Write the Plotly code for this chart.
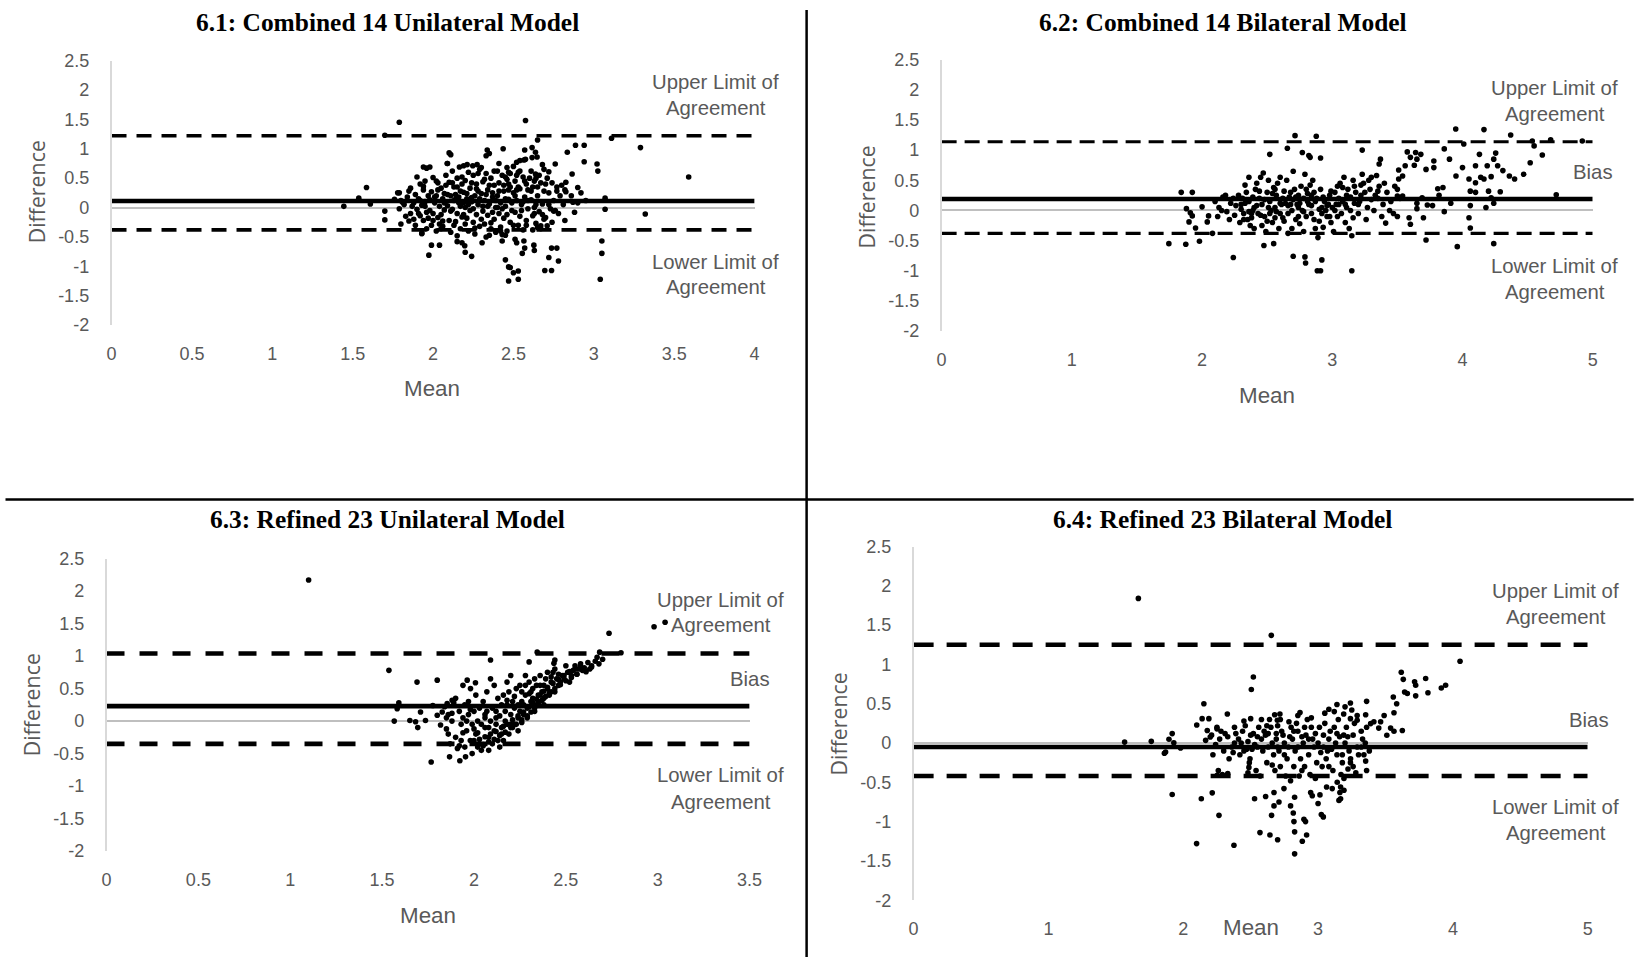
import plotly.graph_objects as go

# ---------------- data ----------------
titles = ["6.1: Combined 14 Unilateral Model", "6.2: Combined 14 Bilateral Model",
          "6.3: Refined 23 Unilateral Model", "6.4: Refined 23 Bilateral Model"]
x_max = [4, 5, 3.5, 5]
x_ticks = [[0, 0.5, 1, 1.5, 2, 2.5, 3, 3.5, 4], [0, 1, 2, 3, 4, 5],
           [0, 0.5, 1, 1.5, 2, 2.5, 3, 3.5], [0, 1, 2, 3, 4, 5]]
x_ticktext = [["0", "0.5", "1", "1.5", "2", "2.5", "3", "3.5", "4"], ["0", "1", "2", "3", "4", "5"],
              ["0", "0.5", "1", "1.5", "2", "2.5", "3", "3.5"], ["0", "1", "2", "3", "4", "5"]]
y_ticks = [-2, -1.5, -1, -0.5, 0, 0.5, 1, 1.5, 2, 2.5]
y_ticktext = ["-2", "-1.5", "-1", "-0.5", "0", "0.5", "1", "1.5", "2", "2.5"]
bias = [0.11, 0.19, 0.23, -0.05]
upper_loa = [1.22, 1.14, 1.04, 1.25]
lower_loa = [-0.38, -0.38, -0.35, -0.42]

p1_points = [
    (1.79, 1.45), (2.575, 1.48), (1.70, 1.23), (2.65, 1.15), (3.11, 1.18), (3.29, 1.02), (2.886, 1.06),
    (2.94, 1.06), (2.835, 0.94), (2.94, 0.78), (3.02, 0.74), (3.025, 0.62), (2.865, 0.57), (2.10, 0.93),
    (2.11, 0.90), (2.337, 0.98), (2.35, 0.92), (2.33, 0.88), (2.436, 1.00), (2.57, 0.98), (2.616, 1.02),
    (2.637, 0.94), (2.647, 0.86), (2.616, 0.85), (2.52, 0.77), (2.54, 0.80), (2.565, 0.81), (2.575, 0.82),
    (1.94, 0.69), (1.96, 0.67), (2.088, 0.75), (2.164, 0.69), (2.212, 0.73), (2.247, 0.71), (2.274, 0.73),
    (2.29, 0.65), (2.41, 0.75), (2.46, 0.68), (2.47, 0.60), (2.68, 0.73), (2.69, 0.65), (2.72, 0.61),
    (2.76, 0.74), (2.637, 0.57), (1.586, 0.34), (1.538, 0.16), (1.445, 0.02), (1.61, 0.06), (3.07, 0.16),
    (3.07, -0.03), (3.32, -0.11), (3.59, 0.52), (1.70, -0.06), (1.70, -0.21), (1.79, 0.25), (2.90, 0.34),
    (2.87, 0.09), (2.826, 0.27), (2.77, 0.28), (2.826, 0.43), (2.82, -0.22), (2.70, -0.17), (2.71, -0.31),
    (2.75, -0.06), (1.99, -0.64), (2.04, -0.64), (1.974, -0.81), (2.197, -0.65), (2.20, -0.76),
    (2.24, -0.83), (2.15, -0.58), (2.18, -0.60), (2.305, -0.60), (1.93, -0.44), (1.80, -0.28), (1.85, -0.23),
    (2.43, -0.57), (2.45, -0.47), (2.45, -0.89), (2.47, -1.01), (2.48, -1.02), (2.50, -1.11), (2.53, -1.08),
    (2.47, -1.25), (2.53, -1.22), (2.51, -0.54), (2.52, -0.60), (2.565, -0.57), (2.57, -0.69), (2.555, -0.78),
    (2.627, -0.64), (2.63, -0.73), (2.737, -0.69), (2.77, -0.69), (2.72, -0.85), (2.78, -0.91),
    (2.695, -1.07), (2.737, -1.07), (3.05, -0.57), (3.05, -0.78), (3.04, -1.22), (2.65, -0.34), (2.67, -0.31),
    (1.78, 0.25), (1.80, 0.12), (1.82, 0.05), (1.79, -0.02), (1.84, 0.18), (1.86, -0.10), (1.83, -0.15),
    (1.85, 0.28), (1.81, 0.09), (1.87, 0.02), (1.76, 0.14), (1.88, -0.20), (1.86, 0.33),
    (1.90, 0.52), (1.92, 0.40), (1.94, 0.30), (1.89, 0.22), (1.91, 0.15), (1.95, 0.10), (1.93, 0.04),
    (1.90, -0.03), (1.96, -0.08), (1.92, -0.14), (1.94, -0.22), (1.89, -0.30), (1.96, -0.36), (1.93, -0.44),
    (1.97, 0.20), (1.88, 0.08), (1.95, 0.45), (1.91, -0.10),
    (1.98, 0.69), (2.00, 0.51), (2.03, 0.42), (2.05, 0.33), (1.99, 0.27), (2.02, 0.20), (2.06, 0.15),
    (2.01, 0.08), (2.04, 0.02), (2.07, -0.04), (2.00, -0.10), (2.03, -0.17), (2.06, -0.23), (1.99, -0.30),
    (2.05, -0.36), (2.02, -0.40), (2.07, 0.24), (1.98, 0.13), (2.08, 0.38), (2.04, -0.28),
    (2.09, 0.75), (2.12, 0.62), (2.15, 0.50), (2.10, 0.43), (2.13, 0.35), (2.17, 0.28), (2.11, 0.20),
    (2.14, 0.14), (2.16, 0.08), (2.09, 0.03), (2.12, -0.03), (2.15, -0.10), (2.18, -0.16), (2.10, -0.22),
    (2.13, -0.30), (2.17, -0.36), (2.11, -0.42), (2.15, -0.48), (2.16, 0.18), (2.14, 0.22), (2.18, 0.40),
    (2.19, 0.71), (2.22, 0.60), (2.25, 0.55), (2.20, 0.46), (2.27, 0.40), (2.23, 0.33), (2.19, 0.26),
    (2.26, 0.20), (2.21, 0.15), (2.24, 0.10), (2.28, 0.05), (2.20, 0.00), (2.23, -0.05), (2.27, -0.12),
    (2.21, -0.18), (2.25, -0.25), (2.29, -0.32), (2.22, -0.40), (2.26, -0.45), (2.28, 0.28), (2.24, 0.17),
    (2.19, 0.08),
    (2.30, 0.68), (2.33, 0.58), (2.36, 0.50), (2.31, 0.44), (2.38, 0.38), (2.34, 0.30), (2.30, 0.24),
    (2.37, 0.18), (2.32, 0.12), (2.35, 0.06), (2.39, 0.00), (2.31, -0.06), (2.34, -0.13), (2.38, -0.20),
    (2.32, -0.28), (2.36, -0.36), (2.39, -0.42), (2.33, -0.50), (2.37, 0.25), (2.35, -0.47),
    (2.40, 0.62), (2.43, 0.55), (2.46, 0.48), (2.41, 0.42), (2.48, 0.35), (2.44, 0.28), (2.40, 0.20),
    (2.47, 0.14), (2.42, 0.08), (2.45, 0.02), (2.49, -0.05), (2.41, -0.10), (2.44, -0.18), (2.48, -0.25),
    (2.42, -0.33), (2.46, -0.40), (2.43, -0.46), (2.47, 0.30), (2.45, 0.52),
    (2.50, 0.70), (2.53, 0.60), (2.56, 0.52), (2.51, 0.45), (2.58, 0.40), (2.54, 0.32), (2.50, 0.25),
    (2.57, 0.18), (2.52, 0.12), (2.55, 0.05), (2.59, -0.02), (2.51, -0.08), (2.54, -0.15), (2.58, -0.22),
    (2.53, -0.30), (2.56, -0.38), (2.59, 0.30), (2.52, 0.55),
    (2.61, 0.62), (2.64, 0.50), (2.67, 0.42), (2.62, 0.35), (2.69, 0.28), (2.65, 0.20), (2.61, 0.13),
    (2.68, 0.06), (2.63, 0.00), (2.66, -0.07), (2.62, -0.14), (2.69, -0.20), (2.64, -0.27), (2.67, -0.36),
    (2.63, 0.45),
    (2.71, 0.50), (2.74, 0.42), (2.77, 0.35), (2.72, 0.25), (2.79, 0.20), (2.75, 0.12), (2.81, 0.05),
    (2.73, -0.02), (2.78, -0.10), (2.82, 0.30), (2.76, -0.05), (2.80, 0.38),
    (2.86, 0.20), (2.90, 0.08), (2.95, 0.12), (2.88, -0.08), (2.92, 0.25),
    (1.92, 0.12), (1.95, 0.02), (1.98, -0.05), (2.01, 0.18), (2.03, 0.30), (2.05, -0.12), (2.07, 0.08),
    (2.09, 0.22), (2.11, -0.06), (2.13, 0.12), (2.15, 0.35), (2.17, 0.02), (2.19, -0.12), (2.21, 0.24),
    (2.23, 0.12), (2.25, -0.02), (2.27, 0.32), (2.29, 0.15), (2.31, 0.02), (2.33, 0.22), (2.35, 0.38),
    (2.37, -0.08), (2.39, 0.12), (2.41, 0.28), (2.43, -0.02), (2.45, 0.15), (2.47, 0.40), (2.49, 0.08),
    (2.51, 0.20), (2.53, 0.35), (2.55, -0.05), (2.57, 0.45), (2.59, 0.12), (2.61, 0.28), (2.63, -0.10),
    (2.65, 0.35), (1.94, 0.36), (1.97, -0.18), (2.00, -0.22), (2.02, 0.45), (2.06, -0.32), (2.08, 0.55),
    (2.12, 0.42), (2.14, -0.24), (2.18, 0.52), (2.20, -0.28), (2.22, 0.05), (2.24, 0.42), (2.26, -0.35),
    (2.28, 0.58), (2.30, -0.20), (2.32, 0.48), (2.34, 0.02), (2.36, -0.26), (2.38, 0.62), (2.40, 0.00),
    (2.42, -0.40), (2.44, 0.38), (2.46, -0.12), (2.48, 0.58), (2.50, -0.30), (2.52, 0.30), (2.54, 0.62),
    (2.56, 0.10), (2.58, -0.30), (2.60, 0.50), (2.62, -0.38), (2.64, 0.05), (2.66, 0.55), (2.68, -0.12),
    (2.70, 0.40), (2.72, 0.05), (2.74, -0.25),
]

p2_points = [
    (2.714, 1.24), (2.877, 1.23), (3.948, 1.35), (4.165, 1.34), (4.37, 1.25), (4.536, 1.15), (4.55, 1.07),
    (4.677, 1.17), (4.92, 1.15), (4.613, 0.92), (4.52, 0.79), (4.47, 0.60), (4.72, 0.26), (4.01, 1.10),
    (2.655, 1.03), (2.52, 0.93), (2.77, 0.96), (2.82, 0.91), (2.83, 0.88), (2.91, 0.87), (3.23, 1.00),
    (3.37, 0.85), (3.36, 0.77), (3.576, 0.97), (3.64, 0.96), (3.60, 0.88), (3.65, 0.85), (3.68, 0.93),
    (3.56, 0.74), (3.63, 0.75), (3.51, 0.67), (3.54, 0.57), (3.78, 0.82), (3.86, 1.02), (3.90, 0.85),
    (3.78, 0.71), (3.72, 0.68), (4.13, 0.93), (4.255, 0.95), (4.24, 0.85), (4.27, 0.74), (4.31, 0.66),
    (4.36, 0.57), (4.40, 0.52), (4.19, 0.74), (4.10, 0.74), (4.00, 0.71), (3.95, 0.57), (4.05, 0.52),
    (4.10, 0.46), (4.14, 0.55), (4.165, 0.52), (4.22, 0.56), (4.06, 0.32), (4.10, 0.30), (4.20, 0.32),
    (4.22, 0.21), (4.29, 0.31), (4.06, 0.08), (4.18, 0.05), (4.05, -0.12), (4.06, -0.29), (4.24, 0.12),
    (3.96, -0.60), (4.24, -0.55), (3.72, -0.49), (3.91, 0.12), (3.86, -0.02), (3.81, 0.36), (3.85, 0.38),
    (3.82, 0.25), (3.77, 0.08), (3.73, 0.09), (3.69, 0.21), (3.65, 0.03), (3.65, 0.12), (3.70, -0.12),
    (3.59, -0.12), (3.60, -0.23), (3.50, -0.10), (3.41, -0.21), (3.50, 0.24), (3.54, 0.24), (3.51, 0.52),
    (1.84, 0.30), (1.925, 0.30), (1.88, 0.03), (1.91, -0.04), (1.925, -0.09), (1.90, -0.19), (1.95, -0.29),
    (1.98, -0.51), (1.875, -0.56), (1.745, -0.55), (2.00, 0.06), (2.05, -0.09), (2.04, -0.19), (2.08, -0.38),
    (2.24, -0.78), (2.475, -0.58), (2.55, -0.55), (2.70, -0.76), (2.79, -0.77), (2.795, -0.87), (2.92, -0.82),
    (2.885, -1.00), (2.91, -1.00), (3.15, -1.00),
    (2.10, 0.15), (2.13, 0.05), (2.16, 0.22), (2.19, -0.02), (2.22, 0.12), (2.25, -0.08), (2.12, -0.10),
    (2.18, 0.25), (2.24, 0.20), (2.15, 0.00), (2.21, -0.15), (2.26, 0.08),
    (2.28, 0.25), (2.30, 0.10), (2.32, -0.05), (2.34, 0.30), (2.36, 0.15), (2.38, -0.12), (2.40, 0.05),
    (2.42, 0.45), (2.44, 0.20), (2.29, -0.20), (2.33, 0.42), (2.37, -0.25), (2.41, 0.35), (2.43, -0.05),
    (2.31, 0.20), (2.39, 0.00), (2.35, -0.15), (2.45, 0.55), (2.36, 0.55), (2.40, -0.30),
    (2.46, 0.10), (2.48, -0.10), (2.50, 0.30), (2.52, 0.15), (2.54, -0.20), (2.56, 0.05), (2.58, 0.45),
    (2.60, -0.05), (2.62, 0.20), (2.47, 0.62), (2.51, 0.50), (2.55, 0.38), (2.59, -0.30), (2.49, -0.35),
    (2.53, 0.00), (2.57, 0.25), (2.61, 0.10), (2.46, -0.25), (2.60, 0.55), (2.52, -0.05), (2.56, -0.12),
    (2.63, -0.18),
    (2.64, 0.12), (2.66, -0.05), (2.68, 0.30), (2.70, 0.18), (2.72, -0.15), (2.74, 0.05), (2.76, 0.40),
    (2.78, 0.20), (2.80, -0.10), (2.65, 0.50), (2.69, -0.30), (2.73, 0.10), (2.77, 0.00), (2.79, 0.60),
    (2.67, 0.22), (2.71, 0.35), (2.75, -0.22), (2.81, 0.15), (2.70, 0.65), (2.66, -0.38), (2.78, -0.35),
    (2.74, 0.25),
    (2.82, 0.10), (2.84, -0.05), (2.86, 0.30), (2.88, 0.20), (2.90, -0.18), (2.92, 0.05), (2.94, 0.15),
    (2.96, -0.10), (2.98, 0.25), (2.83, 0.42), (2.87, -0.30), (2.91, 0.35), (2.95, 0.00), (2.85, 0.50),
    (2.89, -0.45), (2.93, -0.28), (2.97, 0.10), (2.84, 0.25), (2.99, -0.20),
    (3.00, 0.05), (3.02, 0.30), (3.04, -0.10), (3.06, 0.45), (3.08, 0.15), (3.10, -0.20), (3.12, 0.35),
    (3.14, 0.00), (3.16, 0.50), (3.01, -0.35), (3.05, 0.20), (3.09, 0.55), (3.13, -0.30), (3.03, 0.10),
    (3.07, -0.05), (3.11, 0.25), (3.15, -0.42), (3.17, 0.12),
    (3.18, 0.30), (3.21, 0.15), (3.24, 0.45), (3.27, 0.05), (3.30, 0.55), (3.33, 0.25), (3.36, 0.40),
    (3.39, 0.10), (3.20, -0.05), (3.23, 0.60), (3.26, -0.15), (3.29, 0.35), (3.32, 0.00), (3.35, 0.20),
    (3.38, -0.10), (3.22, 0.25), (3.28, 0.50), (3.34, 0.58),
    (3.42, 0.30), (3.45, 0.15), (3.48, 0.40), (3.44, 0.00), (3.52, 0.20), (3.47, -0.05), (3.50, 0.35),
    (2.30, 0.02), (2.33, 0.12), (2.36, -0.02), (2.39, 0.22), (2.42, 0.08), (2.45, -0.08), (2.48, 0.18),
    (2.51, 0.05), (2.54, 0.28), (2.57, -0.02), (2.60, 0.12), (2.63, 0.32), (2.66, 0.08), (2.69, 0.00),
    (2.72, 0.22), (2.75, 0.12), (2.78, -0.02), (2.81, 0.28), (2.84, 0.08), (2.87, 0.15), (2.90, 0.02),
    (2.93, 0.22), (2.96, 0.08), (2.99, 0.32), (3.02, 0.00), (3.05, 0.10), (3.08, 0.38), (3.11, 0.05),
    (3.14, 0.22), (3.17, 0.40), (3.20, 0.10), (3.25, 0.30), (3.30, 0.18), (3.35, 0.32), (3.40, 0.45),
    (2.32, -0.15), (2.38, -0.05), (2.44, 0.32), (2.50, -0.18), (2.56, 0.35), (2.62, -0.12), (2.68, 0.10),
    (2.74, -0.10), (2.80, 0.35), (2.86, -0.15), (2.92, -0.05), (2.98, -0.10), (3.04, 0.40), (3.10, 0.10),
    (3.16, -0.12), (3.22, 0.42),
]

p3_points = [
    (1.10, 2.17), (2.98, 1.45), (3.04, 1.52), (2.735, 1.35), (2.344, 1.06), (2.684, 1.06), (2.80, 1.05),
    (1.537, 0.78), (1.69, 0.60), (1.80, 0.63), (2.09, 0.94), (2.30, 0.91), (2.44, 0.94), (2.435, 0.89),
    (1.767, -0.63), (1.867, -0.55), (1.923, -0.61), (1.954, -0.55),
    (1.566, 0.00), (1.582, 0.19), (1.591, 0.28), (1.651, 0.01), (1.694, -0.10), (1.682, -0.01),
    (1.709, 0.14), (1.736, 0.01), (1.776, 0.24), (1.80, 0.09), (1.818, -0.06), (1.827, 0.14),
    (1.854, 0.27), (1.881, 0.32), (1.94, 0.55), (1.963, 0.63), (2.008, 0.59), (1.981, 0.50),
    (1.84, 0.22), (1.86, 0.10), (1.88, 0.00), (1.85, -0.12), (1.90, -0.25), (1.87, -0.35), (1.92, 0.15),
    (1.89, 0.28), (1.93, -0.05), (1.91, -0.42), (1.94, 0.05), (1.86, -0.20), (1.90, 0.35), (1.93, -0.30),
    (1.95, 0.25), (1.97, 0.10), (1.99, -0.05), (2.01, -0.20), (2.03, -0.35), (1.96, -0.15), (1.98, -0.30),
    (2.00, 0.15), (2.02, 0.00), (2.04, -0.45), (1.95, -0.40), (1.97, 0.30), (2.01, 0.40), (2.03, 0.20),
    (1.99, -0.50), (2.00, -0.12),
    (2.05, 0.30), (2.07, 0.15), (2.09, 0.00), (2.11, -0.15), (2.13, -0.30), (2.06, -0.10), (2.08, -0.25),
    (2.10, 0.20), (2.12, 0.05), (2.14, -0.40), (2.05, -0.38), (2.07, 0.45), (2.11, 0.55), (2.13, 0.35),
    (2.15, -0.20), (2.09, 0.65), (2.06, 0.10), (2.12, -0.05), (2.15, 0.25), (2.08, -0.45),
    (2.16, 0.40), (2.18, 0.25), (2.20, 0.10), (2.22, -0.05), (2.24, -0.15), (2.17, 0.00), (2.19, -0.20),
    (2.21, 0.30), (2.23, 0.50), (2.25, 0.15), (2.16, -0.30), (2.18, 0.60), (2.20, 0.70), (2.22, 0.20),
    (2.24, 0.05), (2.26, 0.30), (2.17, 0.15), (2.21, -0.10), (2.25, 0.55), (2.19, 0.45),
    (2.27, 0.10), (2.29, 0.20), (2.31, 0.30), (2.33, 0.15), (2.35, 0.40), (2.28, 0.40), (2.30, 0.60),
    (2.32, 0.50), (2.34, 0.25), (2.36, 0.55), (2.27, 0.25), (2.29, 0.05), (2.31, 0.45), (2.33, 0.65),
    (2.35, 0.30), (2.37, 0.45), (2.28, 0.70), (2.32, 0.35), (2.26, -0.02), (2.36, 0.70),
    (2.38, 0.35), (2.40, 0.50), (2.42, 0.60), (2.44, 0.45), (2.46, 0.55), (2.39, 0.65), (2.41, 0.40),
    (2.43, 0.75), (2.45, 0.65), (2.47, 0.60), (2.38, 0.55), (2.40, 0.75), (2.44, 0.80), (2.48, 0.70),
    (2.42, 0.45),
    (2.49, 0.65), (2.51, 0.75), (2.53, 0.70), (2.55, 0.85), (2.57, 0.80), (2.50, 0.85), (2.52, 0.60),
    (2.54, 0.78), (2.56, 0.72), (2.58, 0.88), (2.59, 0.78),
    (2.60, 0.82), (2.62, 0.90), (2.64, 0.85), (2.66, 0.92), (2.68, 0.88), (2.61, 0.76), (2.63, 0.80),
    (2.67, 0.98), (2.70, 0.95),
    (2.02, -0.40), (2.05, -0.36), (2.08, -0.32), (2.11, -0.28), (2.14, -0.22), (2.17, -0.17), (2.20, -0.10),
    (2.23, -0.05), (2.26, 0.02), (2.29, 0.08), (2.31, 0.14), (2.33, 0.20), (2.35, 0.26), (2.37, 0.32),
    (2.39, 0.38), (2.41, 0.43), (2.44, 0.50), (2.47, 0.56), (2.50, 0.62), (2.53, 0.67), (2.56, 0.72),
    (2.60, 0.78), (2.64, 0.83),
    (2.03, -0.28), (2.06, -0.24), (2.09, -0.20), (2.12, -0.16), (2.15, -0.10), (2.18, -0.05), (2.21, 0.02),
    (2.24, 0.08), (2.27, 0.14), (2.30, 0.22), (2.32, 0.28), (2.34, 0.34), (2.36, 0.40), (2.38, 0.46),
    (2.40, 0.52), (2.43, 0.58), (2.46, 0.64), (2.49, 0.70), (2.52, 0.76), (2.55, 0.80), (2.58, 0.84),
    (2.00, -0.30), (2.02, -0.18), (2.04, -0.05), (2.06, 0.05), (2.08, -0.10), (2.10, -0.35), (2.12, 0.15),
    (2.14, 0.08), (2.16, -0.08), (2.18, 0.32), (2.20, -0.05), (2.22, 0.38), (2.24, 0.25), (2.26, 0.45),
    (2.28, 0.55), (2.30, 0.42), (2.34, 0.55), (2.38, 0.25), (2.42, 0.68), (2.46, 0.72), (1.96, 0.00),
    (1.98, 0.18), (1.94, -0.18), (1.92, -0.38), (1.88, 0.12), (1.85, 0.05),
]

p4_points = [
    (1.667, 1.84), (2.653, 1.37), (4.053, 1.04), (2.52, 0.84), (2.505, 0.68),
    (3.617, 0.90), (3.632, 0.81), (3.642, 0.65), (3.662, 0.63), (3.716, 0.78), (3.724, 0.735),
    (3.798, 0.82), (3.815, 0.64), (3.724, 0.60), (3.914, 0.70), (3.946, 0.735), (3.558, 0.586),
    (3.583, 0.50), (3.563, 0.386), (3.51, 0.098), (3.563, 0.15), (3.625, 0.16), (3.538, 0.19),
    (3.36, 0.53), (3.24, 0.51), (3.20, 0.46), (3.14, 0.49), (3.08, 0.43), (3.19, 0.37), (3.29, 0.35),
    (3.24, 0.31), (3.29, 0.29), (3.353, 0.36), (3.414, 0.27), (3.45, 0.19), (3.49, 0.35), (3.464, 0.27),
    (3.39, 0.247), (2.153, 0.50), (2.14, 0.31), (2.19, 0.31), (2.10, 0.23), (2.327, 0.37), (2.25, 0.18),
    (2.178, 0.16), (2.20, 0.076), (2.166, 0.034), (1.918, 0.12), (1.894, 0.047), (1.93, 0.004),
    (1.869, -0.115), (1.98, -0.064), (1.86, -0.13), (1.565, 0.012), (1.763, 0.021), (2.50, 0.31),
    (1.918, -0.655), (2.134, -0.71), (2.215, -0.634), (2.265, -0.92), (2.099, -1.28), (2.376, -1.30),
    (2.252, -0.41), (2.33, -0.39), (2.487, -0.31), (2.495, -0.20), (2.529, -0.71), (2.611, -0.68),
    (2.673, -0.63), (2.655, -0.92), (2.673, -0.80), (2.569, -1.14), (2.643, -1.17), (2.70, -1.23),
    (2.826, -1.41), (2.796, -0.80), (2.816, -0.89), (2.821, -1.00), (2.826, -1.13), (2.883, -1.25),
    (2.915, -1.17), (2.895, -0.97), (2.907, -1.00), (2.71, -0.75), (2.826, -0.69), (2.747, -0.58),
    (2.796, -0.48), (2.945, -0.63), (2.957, -0.67), (3.014, -0.66), (3.00, -0.77), (3.024, -0.91),
    (3.039, -0.94), (3.063, -0.56), (3.105, -0.58), (3.142, -0.50), (3.167, -0.56), (3.162, -0.63),
    (3.192, -0.60), (3.167, -0.71), (3.155, -0.73), (3.241, -0.20), (3.222, -0.33), (3.192, -0.45),
    (3.353, -0.23), (3.36, -0.35), (2.866, 0.387), (2.678, 0.36), (2.717, 0.37), (2.698, 0.29),
    (2.784, 0.27),
    (2.21, 0.10), (2.24, -0.02), (2.27, 0.05), (2.30, -0.10), (2.33, 0.08), (2.36, -0.05), (2.39, 0.12),
    (2.22, -0.15), (2.28, 0.15), (2.34, -0.20), (2.38, 0.00), (2.25, 0.20), (2.31, 0.12), (2.37, -0.12),
    (2.26, -0.35), (2.29, -0.40),
    (2.41, 0.05), (2.44, 0.15), (2.47, -0.08), (2.50, 0.10), (2.53, -0.02), (2.56, 0.20), (2.59, -0.10),
    (2.42, -0.15), (2.46, 0.22), (2.49, -0.25), (2.52, 0.12), (2.55, -0.05), (2.58, 0.05), (2.43, 0.00),
    (2.48, 0.02), (2.54, -0.35), (2.57, -0.42), (2.60, 0.15), (2.45, -0.10), (2.51, -0.08),
    (2.61, 0.10), (2.63, -0.05), (2.65, 0.20), (2.67, -0.15), (2.69, 0.05), (2.71, -0.10), (2.73, 0.15),
    (2.75, 0.00), (2.77, -0.20), (2.79, 0.08), (2.62, -0.25), (2.64, 0.30), (2.66, 0.00), (2.68, -0.35),
    (2.70, 0.22), (2.72, -0.30), (2.74, 0.10), (2.76, -0.42), (2.78, -0.05), (2.80, 0.20), (2.63, 0.12),
    (2.70, -0.05), (2.75, -0.15),
    (2.81, 0.05), (2.83, -0.10), (2.85, 0.15), (2.87, -0.20), (2.89, 0.00), (2.91, 0.10), (2.93, -0.15),
    (2.95, 0.20), (2.97, -0.05), (2.99, -0.25), (2.82, -0.30), (2.84, 0.25), (2.86, -0.42), (2.88, 0.08),
    (2.90, -0.30), (2.92, 0.30), (2.94, -0.40), (2.96, 0.05), (2.98, 0.12), (2.85, -0.05),
    (3.00, 0.00), (3.02, -0.12), (3.04, 0.10), (3.06, -0.20), (3.08, 0.05), (3.10, -0.08), (3.12, 0.20),
    (3.14, -0.15), (3.16, 0.08), (3.18, -0.25), (3.01, 0.20), (3.03, -0.30), (3.05, 0.25), (3.07, -0.10),
    (3.09, 0.15), (3.11, -0.35), (3.13, 0.00), (3.15, 0.30), (3.17, -0.40), (3.19, 0.10),
    (3.20, 0.00), (3.23, -0.10), (3.26, 0.10), (3.29, -0.05), (3.32, 0.15), (3.35, 0.00), (3.38, -0.10),
    (3.21, 0.20), (3.24, -0.25), (3.27, 0.25), (3.30, -0.15), (3.33, 0.05), (3.36, 0.20), (3.22, 0.08),
    (3.28, -0.38), (3.34, -0.15),
    (2.45, 0.28), (2.58, 0.30), (2.62, 0.22), (2.72, 0.30), (2.85, 0.35), (2.90, 0.20), (2.95, 0.32),
    (3.05, 0.38), (3.12, 0.40), (3.25, 0.42), (2.38, 0.20), (2.48, -0.38), (2.66, -0.28), (2.88, -0.35),
    (2.98, -0.45), (3.08, -0.30), (3.18, -0.15), (3.26, -0.30), (3.32, -0.05), (2.55, 0.08), (2.69, 0.12),
    (2.82, 0.15), (2.93, 0.05), (3.04, -0.05), (3.14, 0.12),
]
panel_points = [p1_points, p2_points, p3_points, p4_points]

# ---------------- layout geometry (pixels in the target picture) ----------------
# plot area: (left px of x=0, right px of x=max, top px of y=2.5, bottom px of y=-2)
areas = [(111, 754, 60, 324), (941, 1592, 59, 330), (106, 749, 557, 849), (913, 1587, 545, 898)]
dash_styles = [("15px,10px", 3.5), ("15px,8px", 3.0), ("18px,15px", 4.5), ("20px,13px", 4.5)]

title_pos = [(387, 21), (1222, 21), (387, 518), (1222, 518)]
diff_pos = [(36, 191), (866, 196), (31, 703), (838, 722)]
mean_pos = [(431, 387), (1266, 394), (427, 913), (1250, 925)]
side_labels = [
    [("Upper Limit of", 715, 81), ("Agreement", 715, 107), ("Lower Limit of", 715, 261), ("Agreement", 715, 286)],
    [("Upper Limit of", 1554, 87), ("Agreement", 1554, 113), ("Bias", 1592, 171),
     ("Lower Limit of", 1554, 265), ("Agreement", 1554, 291)],
    [("Upper Limit of", 720, 598), ("Agreement", 720, 623), ("Bias", 749, 677),
     ("Lower Limit of", 720, 773), ("Agreement", 720, 800)],
    [("Upper Limit of", 1555, 589), ("Agreement", 1555, 615), ("Bias", 1588, 718),
     ("Lower Limit of", 1555, 805), ("Agreement", 1555, 831)],
]

# page -> picture mapping observed for the capture (picture = A * page + B)
AX, BX = 0.989, 4.5
AY, BY = 0.9775, 9.5
OFF = 0                   # body margin removed by the post script below
FW, FH = 1656, 970        # figure size (page pixels)
S = 1 / ((AX + AY) / 2)   # size compensation


def px(x):
    return ((x - BX) / AX - OFF) / FW


def py(y):
    return 1 - ((y - BY) / AY - OFF) / FH


GRAY = "#595959"
TICKFONT = "Liberation Sans Narrow, Liberation Sans, Arial"

fig = go.Figure()
layout = dict(width=FW, height=FH, autosize=False, margin=dict(l=0, r=0, t=0, b=0),
              plot_bgcolor="white", paper_bgcolor="white", showlegend=False)
annotations = []
shapes = []

for i in range(4):
    n = "" if i == 0 else str(i + 1)
    xa, ya = "x" + n, "y" + n
    L, R, T, B = areas[i]
    xm = x_max[i]
    pts = panel_points[i]
    xs = [p[0] for p in pts]
    ys = [p[1] for p in pts]
    dash, dw = dash_styles[i]
    for val in (upper_loa[i], lower_loa[i]):
        fig.add_trace(go.Scatter(x=[0, xm], y=[val, val], mode="lines", xaxis=xa, yaxis=ya,
                                 line=dict(color="black", width=dw * S, dash=dash), hoverinfo="skip"))
    fig.add_trace(go.Scatter(x=[0, xm], y=[bias[i], bias[i]], mode="lines", xaxis=xa, yaxis=ya,
                             line=dict(color="black", width=4.5 * S), hoverinfo="skip"))
    fig.add_trace(go.Scatter(x=xs, y=ys, mode="markers", xaxis=xa, yaxis=ya,
                             marker=dict(color="black", size=5.5 * S, line=dict(width=0))))
    layout["xaxis" + n] = dict(domain=[px(L), px(R)], range=[0, xm], anchor=ya,
                               tickvals=x_ticks[i], ticktext=x_ticktext[i],
                               showgrid=False, zeroline=False, showline=False,
                               ticks="outside", ticklen=12, tickcolor="rgba(0,0,0,0)",
                               tickfont=dict(family=TICKFONT, size=round(18 * S), color=GRAY))
    layout["yaxis" + n] = dict(domain=[py(B), py(T)], range=[-2, 2.5], anchor=xa,
                               tickvals=y_ticks, ticktext=y_ticktext,
                               showgrid=False, zeroline=True, zerolinecolor="#bfbfbf", zerolinewidth=1.5,
                               showline=True, linecolor="#d9d9d9", linewidth=1.5,
                               ticks="outside", ticklen=17, tickcolor="rgba(0,0,0,0)",
                               tickfont=dict(family=TICKFONT, size=round(18 * S), color=GRAY))
    tx, ty = title_pos[i]
    annotations.append(dict(text="<b>" + titles[i] + "</b>", x=px(tx), y=py(ty), xref="paper", yref="paper",
                            xanchor="center", yanchor="middle", showarrow=False,
                            font=dict(family="Liberation Serif, DejaVu Serif", size=25 * S, color="black")))
    dx, dy = diff_pos[i]
    annotations.append(dict(text="Difference", x=px(dx), y=py(dy), xref="paper", yref="paper",
                            xanchor="center", yanchor="middle", showarrow=False, textangle=-90,
                            font=dict(family="Open Sans, DejaVu Sans", size=21 * S, color=GRAY)))
    mx, my = mean_pos[i]
    annotations.append(dict(text="Mean", x=px(mx), y=py(my), xref="paper", yref="paper",
                            xanchor="center", yanchor="middle", showarrow=False,
                            font=dict(family=TICKFONT, size=22 * S, color=GRAY)))
    for txt, sx, sy in side_labels[i]:
        annotations.append(dict(text=txt, x=px(sx), y=py(sy), xref="paper", yref="paper",
                                xanchor="center", yanchor="middle", showarrow=False,
                                font=dict(family=TICKFONT, size=20 * S, color=GRAY)))

# panel divider lines
shapes.append(dict(type="line", xref="paper", yref="paper", x0=px(806), x1=px(806), y0=0, y1=1,
                   line=dict(color="black", width=2.5)))
shapes.append(dict(type="line", xref="paper", yref="paper", x0=px(5), x1=px(1633), y0=py(498), y1=py(498),
                   line=dict(color="black", width=2.5)))

layout["annotations"] = annotations
layout["shapes"] = shapes
fig.update_layout(**layout)
fig.write_html("out.html", config={"displayModeBar": False},
               post_script="document.body.style.margin='0px';")
